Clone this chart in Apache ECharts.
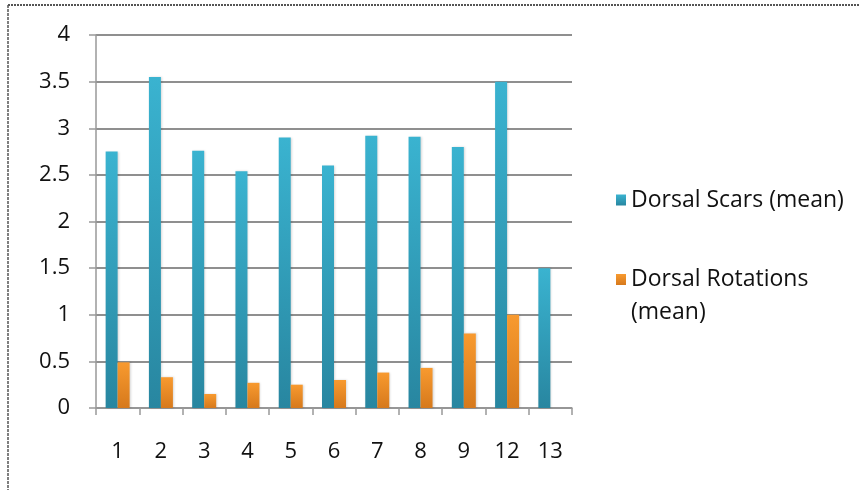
<!DOCTYPE html>
<html>
<head>
<meta charset="utf-8">
<script src="https://cdn.jsdelivr.net/npm/echarts@6/dist/echarts.min.js"></script>
<style>
  html, body { margin: 0; padding: 0; background: #fff; }
  #chart { width: 860px; height: 490px; }
</style>
</head>
<body>
<div id="chart"></div>
<script>
// Core flake groups and their mean dorsal measurements
const categories = ['1', '2', '3', '4', '5', '6', '7', '8', '9', '12', '13'];
const dorsalScars = [2.75, 3.55, 2.76, 2.54, 2.9, 2.6, 2.92, 2.91, 2.8, 3.5, 1.5];
const dorsalRotations = [0.49, 0.33, 0.15, 0.27, 0.25, 0.3, 0.38, 0.43, 0.8, 1.0, null];
const yTicks = [0, 0.5, 1, 1.5, 2, 2.5, 3, 3.5, 4];

const FONT = '"Open Sans"';
const chart = echarts.init(document.getElementById('chart'));

const blue = new echarts.graphic.LinearGradient(0, 0, 0, 1, [
  { offset: 0, color: '#3ab3d0' },
  { offset: 1, color: '#2886a0' }
]);
const orange = new echarts.graphic.LinearGradient(0, 0, 0, 1, [
  { offset: 0, color: '#f89a2f' },
  { offset: 1, color: '#d6791c' }
]);

chart.setOption({
  animation: false,
  backgroundColor: '#fff',
  textStyle: { fontFamily: FONT },
  graphic: [
    { type: 'line', shape: { x1: 8, y1: 5, x2: 860, y2: 5 },
      style: { stroke: '#555', lineWidth: 2, lineDash: [2, 1] } },
    { type: 'line', shape: { x1: 8, y1: 5, x2: 8, y2: 490 },
      style: { stroke: '#555', lineWidth: 1.5, lineDash: [3, 1] } }
  ],
  grid: { left: 96, right: 288, top: 35, bottom: 82, containLabel: false },
  legend: [
    {
      left: 611, top: 181, orient: 'vertical',
      itemWidth: 10, itemHeight: 11, icon: 'rect', itemGap: 12,
      textStyle: { fontFamily: FONT, fontSize: 23, color: '#111', lineHeight: 28 },
      data: ['Dorsal Scars (mean)']
    },
    {
      left: 611, top: 225, orient: 'vertical',
      itemWidth: 10, itemHeight: 11, icon: 'rect', itemGap: 12,
      // blank leading line keeps the swatch level with the first text line
      formatter: () => ' \nDorsal Rotations\n(mean)',
      textStyle: { fontFamily: FONT, fontSize: 23, color: '#111', lineHeight: 33 },
      data: ['Dorsal Rotations (mean)']
    }
  ],
  xAxis: {
    type: 'category',
    data: categories,
    axisLine: { lineStyle: { color: '#999', width: 1.5 } },
    axisTick: { show: true, length: 7, lineStyle: { color: '#999', width: 1.5 } },
    axisLabel: { margin: 33, fontSize: 22, color: '#111', fontFamily: FONT },
    splitLine: { show: false }
  },
  yAxis: {
    type: 'value',
    min: 0, max: 4, interval: 0.5,
    axisLine: { show: true, lineStyle: { color: '#999', width: 1.5 } },
    axisTick: { show: true, length: 7, lineStyle: { color: '#999', width: 1.5 } },
    axisLabel: {
      margin: 26, fontSize: 22, color: '#111', fontFamily: FONT,
      formatter: v => (yTicks.includes(v) ? String(v) : '')
    },
    splitLine: { show: true, lineStyle: { color: '#8f8f8f', width: 2 } }
  },
  series: [
    {
      name: 'Dorsal Scars (mean)', type: 'bar', data: dorsalScars,
      barWidth: 12, barGap: '0%',
      itemStyle: { color: blue, shadowColor: 'rgba(0,0,0,0.15)', shadowBlur: 2, shadowOffsetX: 1 }
    },
    {
      name: 'Dorsal Rotations (mean)', type: 'bar', data: dorsalRotations,
      barWidth: 12, barGap: '0%',
      itemStyle: { color: orange, shadowColor: 'rgba(0,0,0,0.15)', shadowBlur: 2, shadowOffsetX: 1 }
    }
  ]
});
</script>
</body>
</html>
